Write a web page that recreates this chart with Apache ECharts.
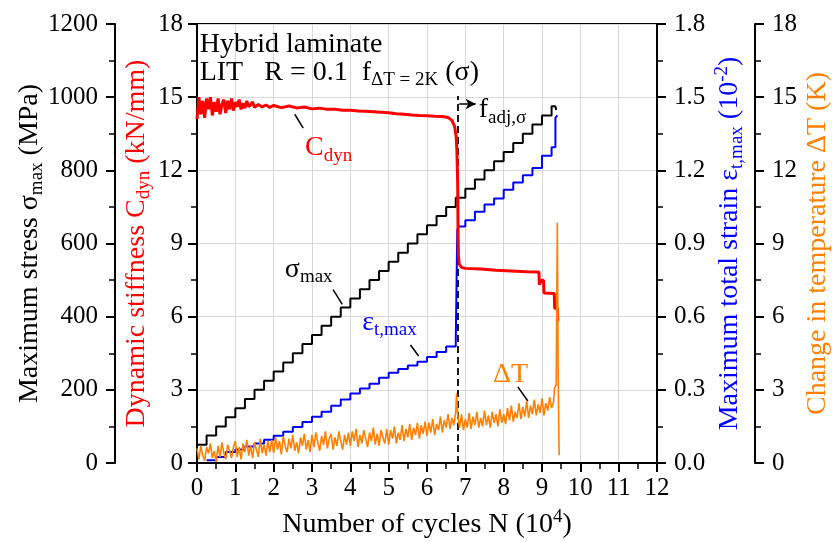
<!DOCTYPE html>
<html><head><meta charset="utf-8">
<script src="https://cdn.jsdelivr.net/npm/echarts@6/dist/echarts.min.js"></script>
<style>html,body{margin:0;padding:0;background:#fff}#c{width:832px;height:542px}</style>
</head><body><div id="c"></div>
<script>
// ---- data ----
const stressN = [0,0.25,0.5,0.75,1,1.25,1.5,1.75,2,2.25,2.5,2.75,3,3.25,3.5,3.75,4,4.25,4.5,4.75,5,5.25,5.5,5.75,6,6.25,6.5,6.75,7,7.25,7.5,7.75,8,8.25,8.5,8.75,9,9.25,9.35,9.37];
const stressVal = [50,75,100,125,150,175,200,225,250,275,300,325,350,375,400,425,450,475,500,525,550,575,600,625,650,675,700,725,750,775,800,825,850,875,900,925,950,975,975,965];

const strainN = [0.25,0.5,0.75,1.0,1.25,1.5,1.75,2.0,2.25,2.5,2.75,3.0,3.25,3.5,3.75,4.0,4.25,4.5,4.75,5.0,5.25,5.5,5.75,6.0,6.25,6.5,6.75,6.79,6.82,7.0,7.25,7.5,7.75,8.0,8.25,8.5,8.75,9.0,9.25,9.35,9.4];
const strainVal = [0.011,0.025,0.045,0.055,0.068,0.08,0.095,0.112,0.128,0.148,0.168,0.19,0.21,0.235,0.26,0.285,0.305,0.325,0.35,0.37,0.385,0.4,0.415,0.435,0.455,0.478,0.496,0.955,0.97,0.995,1.03,1.06,1.085,1.12,1.15,1.18,1.21,1.26,1.295,1.415,1.425];

const cdynN = [0,0.05,0.1,0.15,0.2,0.25,0.3,0.35,0.4,0.45,0.5,0.55,0.6,0.65,0.7,0.75,0.8,0.85,0.9,0.95,1.0,1.05,1.1,1.15,1.2,1.25,1.3,1.35,1.4,1.45,1.5,1.6,1.7,1.8,1.9,2.0,2.2,2.4,2.6,2.8,3.0,3.2,3.4,3.6,3.8,4.0,4.2,4.4,4.6,4.8,5.0,5.2,5.4,5.6,5.8,6.0,6.2,6.4,6.55,6.65,6.72,6.76,6.78,6.8,6.81,6.82,6.84,6.9,7.0,7.4,7.8,8.2,8.6,8.92,8.93,8.97,8.98,9.04,9.05,9.32,9.33,9.4,9.41,9.45];
const cdynVal = [14.1,15.0,14.3,14.85,14.15,14.95,14.5,15.0,14.25,14.8,14.4,14.95,14.3,14.7,14.9,14.35,14.85,14.5,14.95,14.45,14.8,14.6,14.9,14.5,14.75,14.55,14.85,14.6,14.7,14.8,14.58,14.7,14.6,14.68,14.58,14.66,14.57,14.64,14.56,14.6,14.52,14.55,14.5,14.5,14.46,14.46,14.43,14.42,14.4,14.38,14.36,14.32,14.3,14.27,14.25,14.24,14.22,14.21,14.17,14.05,13.8,13.4,12.8,11.5,9.5,8.5,8.15,8.02,7.98,7.95,7.9,7.87,7.84,7.83,7.31,7.31,7.49,7.49,6.97,6.95,6.35,6.35,5.87,5.87];

const tempN = [0,0.05,0.1,0.15,0.2,0.25,0.3,0.35,0.4,0.45,0.5,0.55,0.6,0.65,0.7,0.75,0.8,0.85,0.9,0.95,
  1.0,1.05,1.1,1.15,1.2,1.25,1.3,1.35,1.4,1.45,1.5,1.55,1.6,1.65,1.7,1.75,1.8,1.85,1.9,1.95,
  2.0,2.05,2.1,2.15,2.2,2.25,2.3,2.35,2.4,2.45,2.5,2.55,2.6,2.65,2.7,2.75,2.8,2.85,2.9,2.95,
  3.0,3.05,3.1,3.15,3.2,3.25,3.3,3.35,3.4,3.45,3.5,3.55,3.6,3.65,3.7,3.75,3.8,3.85,3.9,3.95,
  4.0,4.05,4.1,4.15,4.2,4.25,4.3,4.35,4.4,4.45,4.5,4.55,4.6,4.65,4.7,4.75,4.8,4.85,4.9,4.95,
  5.0,5.05,5.1,5.15,5.2,5.25,5.3,5.35,5.4,5.45,5.5,5.55,5.6,5.65,5.7,5.75,5.8,5.85,5.9,5.95,
  6.0,6.05,6.1,6.15,6.2,6.25,6.3,6.35,6.4,6.45,6.5,6.55,6.6,6.65,6.7,
  6.75,6.77,6.8,6.85,
  6.9,6.95,7.0,7.05,7.1,7.15,7.2,7.25,7.3,7.35,7.4,7.45,7.5,7.55,7.6,7.65,7.7,7.75,7.8,7.85,7.9,7.95,8.0,
  8.05,8.1,8.15,8.2,8.25,8.3,8.35,8.4,8.45,8.5,8.55,8.6,8.65,8.7,8.75,8.8,8.85,8.9,8.95,9.0,9.05,9.1,9.15,9.2,9.25,
  9.3,9.33,9.37,9.4,9.42,9.44,9.45];
const tempVal = [0.6,0.15,0.7,0.3,0.1,0.65,0.4,0.8,0.2,0.5,0.05,0.7,0.25,0.85,0.4,0.15,0.75,0.5,0.2,0.65,
  0.9,0.25,0.65,0.15,0.8,0.45,0.95,0.3,0.7,0.2,0.85,0.55,0.25,1.0,0.4,0.75,0.3,0.9,0.45,0.95,
  0.4,1.05,0.55,0.9,0.35,1.1,0.7,0.45,1.0,0.6,1.15,0.5,0.85,0.4,1.05,0.7,1.2,0.55,0.95,0.45,
  1.15,0.65,1.25,0.85,0.5,1.1,0.75,1.3,0.6,1.0,1.2,0.55,1.05,0.7,1.3,0.9,0.55,1.15,0.75,1.25,
  0.7,1.3,0.9,1.4,0.65,1.15,0.8,1.35,1.0,0.65,1.25,0.9,1.45,0.75,1.2,0.7,1.35,1.05,0.8,1.4,
  0.75,1.35,1.0,1.5,0.8,1.25,0.95,1.55,0.9,1.4,1.05,1.6,0.95,1.45,1.15,1.65,1.0,1.55,1.2,1.7,
  1.1,1.65,1.25,1.8,1.15,1.6,1.35,1.9,1.25,1.75,1.45,2.0,1.4,1.85,1.55,
  2.1,2.85,2.0,1.45,
  2.0,1.35,1.8,1.45,2.05,1.4,1.9,1.55,2.1,1.45,1.85,1.5,2.15,1.55,1.95,1.45,2.1,1.65,2.0,1.5,2.2,1.65,2.0,
  1.6,2.25,1.75,2.35,1.7,2.1,1.85,2.45,1.8,2.3,1.9,2.55,1.85,2.35,2.0,2.6,1.95,2.4,2.05,2.65,1.95,2.45,2.15,2.7,2.25,
  2.5,3.1,3.2,9.85,4.0,1.0,0.32];

const xTickLabels = ['0','1','2','3','4','5','6','7','8','9','10','11','12'];

// ---- chart ----
const FONT = 'Liberation Serif';
const RED = '#ff0000', BLUE = '#0000ff', ORANGE = '#ff8000', GRID = '#d9d9d9';
const zip = (a, b) => a.map((v, i) => [v, b[i]]);
function rich(color, size) {
  return {
    sub: { fontFamily: FONT, fontSize: Math.round(size * 0.68), color: color, lineHeight: 12, verticalAlign: 'bottom' },
    sup: { fontFamily: FONT, fontSize: Math.round(size * 0.68), color: color, lineHeight: 12, verticalAlign: 'top' }
  };
}
function nameStyle(color, size) {
  return { fontFamily: FONT, fontSize: size, color: color, lineHeight: 34, rich: rich(color, size) };
}
const tickLbl = { fontFamily: FONT, fontSize: 25, color: '#000' };
function yAx(o) {
  return Object.assign({
    type: 'value', nameLocation: 'middle', nameRotate: 90, nameMoveOverlap: false,
    axisLine: { show: true, onZero: false, lineStyle: { color: '#000', width: 2 } },
    axisTick: { show: true, inside: false, length: 9, lineStyle: { color: '#000', width: 2 } },
    minorTick: { show: true, splitNumber: 2, length: 6, lineStyle: { color: '#000', width: 1.5 } },
    splitLine: { show: false },
  }, o);
}
const chart = echarts.init(document.getElementById('c'));
const option = {
  animation: false,
  backgroundColor: '#fff',
  grid: { left: 197, right: 175, top: 24, bottom: 79, outerBoundsMode: 'none', containLabel: false,
    show: true, borderColor: '#000', borderWidth: 2, backgroundColor: 'transparent' },
  xAxis: {
    type: 'value', min: 0, max: 12, interval: 1, nameMoveOverlap: false,
    name: 'Number of cycles N (10{sup|4})', nameLocation: 'middle', nameGap: 45,
    nameTextStyle: nameStyle('#000', 28),
    axisLine: { onZero: false, lineStyle: { color: '#000', width: 2 } },
    axisTick: { length: 9, lineStyle: { color: '#000', width: 2 } },
    minorTick: { show: true, splitNumber: 2, length: 6, lineStyle: { color: '#000', width: 1.5 } },
    splitLine: { show: true, lineStyle: { color: GRID, width: 1 } },
    axisLabel: Object.assign({ margin: 13, formatter: v => xTickLabels[v] }, tickLbl)
  },
  yAxis: [
    yAx({ position: 'left', offset: 0, min: 0, max: 18, interval: 3,
      name: 'Dynamic stiffness C{sub|dyn} (kN/mm)', nameGap: 43, nameTextStyle: nameStyle(RED, 28),
      splitLine: { show: true, lineStyle: { color: GRID, width: 1 } },
      axisLabel: Object.assign({ margin: 14 }, tickLbl) }),
    yAx({ position: 'left', offset: 82, min: 0, max: 1200, interval: 200,
      name: 'Maximum stress σ{sub|max} (MPa)', nameGap: 68, nameTextStyle: nameStyle('#000', 28),
      axisLabel: Object.assign({ margin: 17, formatter: v => String(v) }, tickLbl) }),
    yAx({ position: 'right', offset: 0, min: 0, max: 1.8, interval: 0.3,
      name: 'Maximum total strain ε{sub|t,max} (10{sup|-2})', nameGap: 56, nameTextStyle: nameStyle(BLUE, 28),
      axisLabel: Object.assign({ margin: 17, formatter: v => v.toFixed(1) }, tickLbl) }),
    yAx({ position: 'right', offset: 98, min: 0, max: 18, interval: 3,
      name: 'Change in temperature ΔT (K)', nameGap: 46, nameTextStyle: nameStyle(ORANGE, 28),
      axisLabel: Object.assign({ margin: 17 }, tickLbl) })
  ],
  series: [
    { type: 'line', name: 'stress', yAxisIndex: 1, step: 'end', showSymbol: false, symbol: 'none',
      data: zip(stressN, stressVal), lineStyle: { color: '#000', width: 2 }, z: 3 },
    { type: 'line', name: 'strain', yAxisIndex: 2, step: 'end', showSymbol: false, symbol: 'none',
      data: zip(strainN, strainVal), lineStyle: { color: BLUE, width: 2 }, z: 4 },
    { type: 'line', name: 'cdyn', yAxisIndex: 0, showSymbol: false, symbol: 'none',
      data: zip(cdynN, cdynVal), lineStyle: { color: RED, width: 3 }, z: 5,
      markLine: { silent: true, symbol: ['none', 'none'], label: { show: false },
        lineStyle: { color: '#000', width: 1.5, type: 'solid' },
        data: [
          [{ coord: [6.8, 0], lineStyle: { type: [7, 4], width: 1.8 } }, { coord: [6.8, 15.05] }],
          [{ coord: [6.84, 14.72], symbol: 'none' }, { coord: [7.27, 14.72], symbol: 'arrow', symbolSize: [8, 10] }],
          [{ coord: [2.55, 14.3] }, { coord: [2.77, 13.73] }],
          [{ coord: [3.55, 7.11] }, { coord: [3.79, 6.5] }],
          [{ coord: [5.57, 4.84] }, { coord: [5.78, 4.39] }],
          [{ coord: [8.37, 3.12] }, { coord: [8.63, 2.54] }]
        ] } },
    { type: 'line', name: 'dT', yAxisIndex: 3, showSymbol: false, symbol: 'none',
      data: zip(tempN, tempVal), lineStyle: { color: ORANGE, width: 1.6 }, z: 6 }
  ]
};
chart.setOption(option);

const annos = [
  { n: 0.07, u: 17.15, text: 'Hybrid laminate', color: '#000' },
  { n: 0.07, u: 16.02, text: 'LIT   R = 0.1  f{sub|ΔT = 2K} (σ)', color: '#000' },
  { n: 7.35, u: 14.47, text: 'f{sub|adj,σ}', color: '#000' },
  { n: 2.82, u: 12.91, text: 'C{sub|dyn}', color: RED },
  { n: 2.29, u: 7.93, text: 'σ{sub|max}', color: '#000' },
  { n: 4.31, u: 5.75, text: 'ε{sub|t,max}', color: BLUE },
  { n: 7.72, u: 3.63, text: 'ΔT', color: ORANGE }
];
const g = annos.map(a => {
  const p = chart.convertToPixel({ xAxisIndex: 0, yAxisIndex: 0 }, [a.n, a.u]);
  return { type: 'text', x: p[0], y: p[1], z: 10,
    style: { text: a.text, fill: a.color, fontFamily: FONT, fontSize: 28, lineHeight: 34,
      align: 'left', verticalAlign: 'middle',
      rich: {
        sub: { fill: a.color, fontFamily: FONT, fontSize: 19, lineHeight: 12, verticalAlign: 'bottom' }
      } } };
});
chart.setOption({ graphic: g });
</script></body></html>
